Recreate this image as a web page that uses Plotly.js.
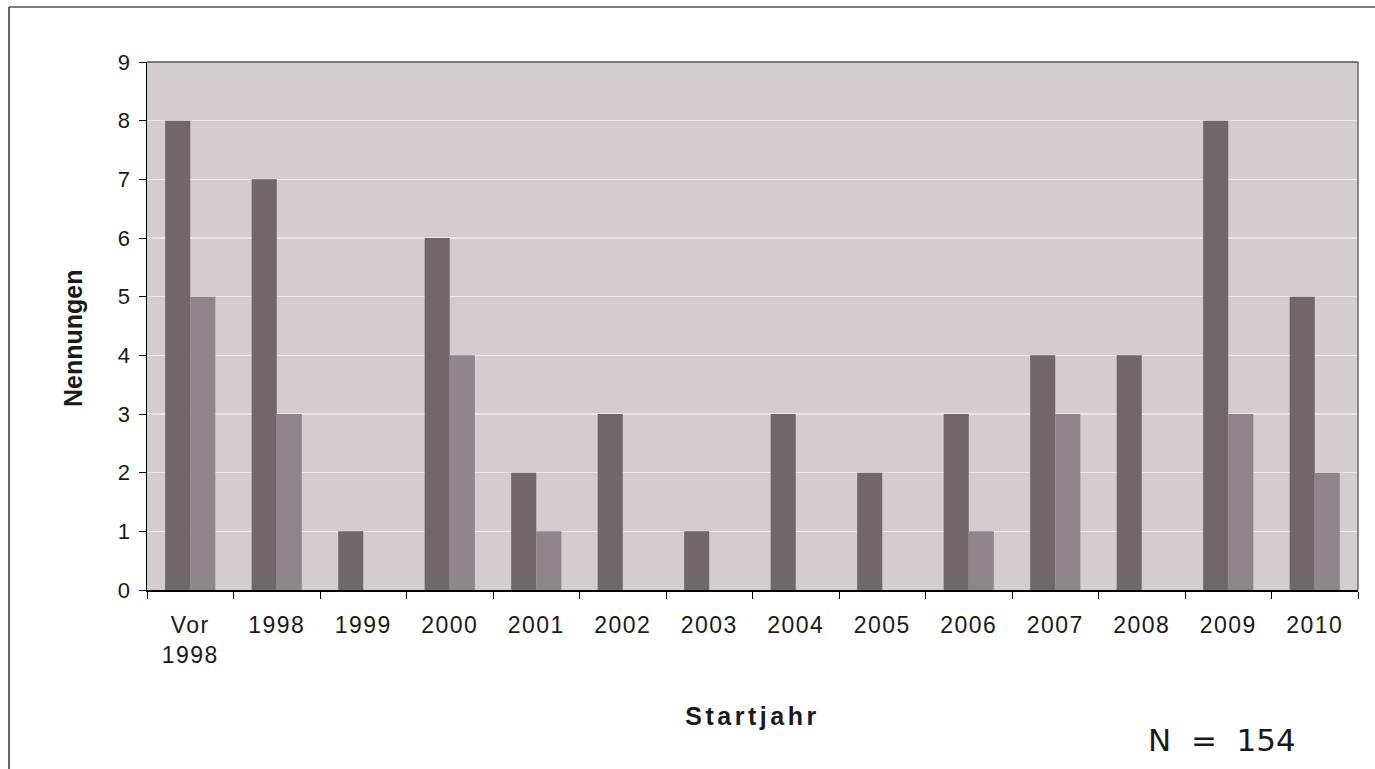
<!DOCTYPE html>
<html><head><meta charset="utf-8">
<script src="https://cdn.plot.ly/plotly-3.0.1.min.js"></script>
<style>html,body{margin:0;padding:0;background:#fff}#c{width:1375px;height:769px}
.xtitle{letter-spacing:3.5px}
.xtick text{letter-spacing:1.5px}
</style>
</head><body><div id="c"></div>
<script>
const categories = ["Vor<br>1998","1998","1999","2000","2001","2002","2003","2004","2005","2006","2007","2008","2009","2010"];
const seriesA = [8,7,1,6,2,3,1,3,2,3,4,4,8,5];
const seriesB = [5,3,0,4,1,0,0,0,0,1,3,0,3,2];
const yTicks = [0,1,2,3,4,5,6,7,8,9];

const fam = "Liberation Sans, Arial, sans-serif";
const data = [
  {type:"bar", x:categories, y:seriesA, marker:{color:"#6f676a"}, name:"A"},
  {type:"bar", x:categories, y:seriesB, marker:{color:"#8e868a"}, name:"B"}
];
const H = 528, W = 1211;
const layout = {
  width:1375, height:769,
  margin:{l:147, r:17, t:62, b:179},
  paper_bgcolor:"#ffffff", plot_bgcolor:"#d4cdd0",
  showlegend:false, barmode:"group", bargap:0.42, bargroupgap:0,
  font:{family:fam, size:20, color:"#1a1a1a"},
  xaxis:{type:"category", tickson:"boundaries", ticks:"outside", ticklen:7, tickcolor:"#000",
    showline:true, linecolor:"#000", linewidth:1.5, showgrid:false, ticklabelstandoff:14,
    tickfont:{family:fam, size:23, color:"#1a1a1a"},
    title:{text:"<b>Startjahr</b>", font:{family:fam, size:25, color:"#1a1a1a"}, standoff:40}},
  yaxis:{range:[0,9], tickvals:yTicks, ticks:"outside", ticklen:7, tickcolor:"#000",
    showline:true, linecolor:"#000", linewidth:1.5, gridcolor:"#ebe7e9", gridwidth:1.5, zeroline:false,
    ticklabelstandoff:4,
    tickfont:{family:fam, size:22, color:"#1a1a1a"}},
  shapes:[
    {type:"line", xref:"paper", yref:"paper", x0:0, x1:1, y0:1, y1:1, line:{color:"#555", width:1.5}},
    {type:"line", xref:"paper", yref:"paper", x0:1, x1:1, y0:0, y1:1, line:{color:"#666", width:1.5}},
    {type:"line", xref:"paper", yref:"paper", x0:-138/W, x1:1.02, y0:1+55/H, y1:1+55/H, line:{color:"#555", width:1.5}},
    {type:"line", xref:"paper", yref:"paper", x0:-138/W, x1:-138/W, y0:-0.34, y1:1+55/H, line:{color:"#333", width:1.5}}
  ],
  annotations:[
    {text:"<b>Nennungen</b>", xref:"paper", yref:"paper", x:(73-147)/W, y:(590-338)/H, xanchor:"center", yanchor:"middle",
     textangle:-90, showarrow:false, font:{family:fam, size:25, color:"#1a1a1a"}},
    {text:"N&nbsp; =&nbsp; 154", xref:"paper", yref:"paper", x:(1222-147)/W, y:(590-740)/H, xanchor:"center", yanchor:"middle",
     showarrow:false, font:{family:"DejaVu Sans, Verdana, sans-serif", size:31, color:"#1a1a1a"}}
  ]
};
Plotly.newPlot("c", data, layout, {staticPlot:true});
</script></body></html>
